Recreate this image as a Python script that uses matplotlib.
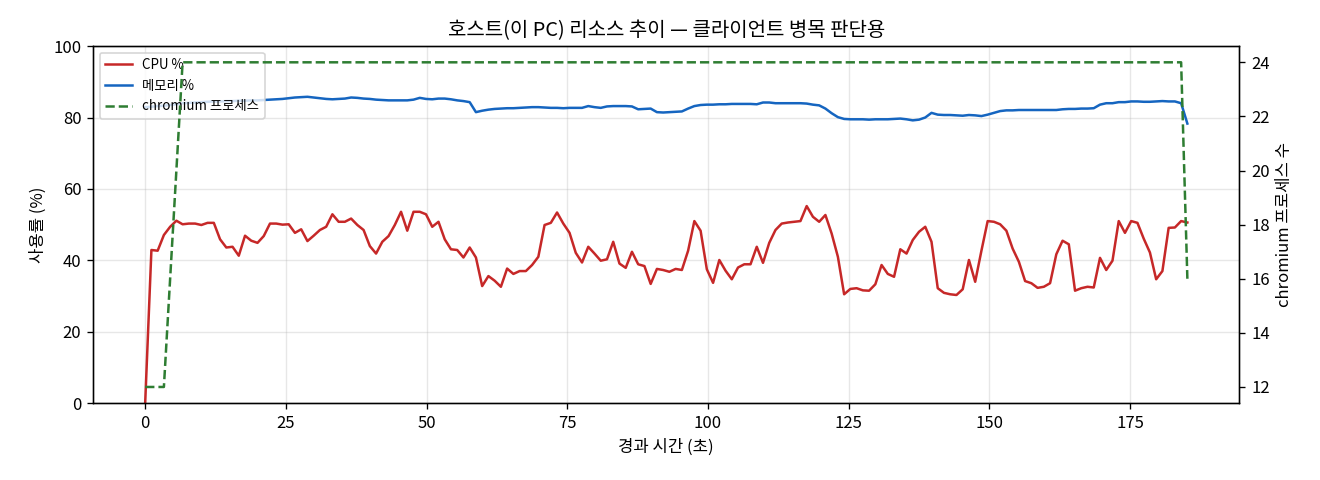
import numpy as np
import matplotlib
matplotlib.use("Agg")
import matplotlib.pyplot as plt

plt.rcParams['font.family'] = ['Noto Sans CJK KR', 'DejaVu Sans']
plt.rcParams['axes.unicode_minus'] = False

# sampling interval of the host monitor (seconds)
SAMPLE_SEC = 1.109

cpu_pct = [
    0.0, 42.9, 42.7, 47.1, 49.4, 51.1, 50.1, 50.3, 50.3, 49.9,
    50.5, 50.5, 45.9, 43.6, 43.8, 41.3, 46.9, 45.5, 44.9, 46.8,
    50.3, 50.3, 50.0, 50.1, 47.7, 48.7, 45.4, 46.9, 48.5, 49.4,
    52.9, 50.8, 50.8, 51.7, 49.9, 48.5, 44.0, 41.9, 45.2, 46.8,
    49.9, 53.6, 48.3, 53.6, 53.6, 52.9, 49.4, 50.8, 45.9, 43.1,
    42.9, 40.8, 43.6, 40.8, 32.8, 35.6, 34.3, 32.6, 37.7, 36.2,
    37.0, 37.0, 38.7, 41.0, 49.9, 50.5, 53.4, 50.3, 47.7, 42.1,
    39.4, 43.8, 41.9, 39.9, 40.3, 45.2, 39.1, 37.9, 42.4, 38.9,
    38.4, 33.4, 37.6, 37.3, 36.8, 37.6, 37.3, 42.7, 51.0, 48.3,
    37.5, 33.7, 40.1, 37.1, 34.7, 38.0, 38.9, 38.9, 43.8, 39.3,
    44.9, 48.5, 50.3, 50.6, 50.8, 51.0, 55.2, 52.2, 50.8, 52.7,
    47.5, 41.0, 30.5, 32.0, 32.2, 31.6, 31.5, 33.3, 38.7, 36.2,
    35.4, 43.1, 41.9, 45.7, 48.0, 49.4, 45.2, 32.2, 30.9, 30.5,
    30.3, 31.9, 40.1, 34.0, 42.7, 51.0, 50.8, 50.1, 48.3, 43.3,
    39.6, 34.2, 33.6, 32.3, 32.6, 33.6, 41.7, 45.5, 44.5, 31.5,
    32.2, 32.6, 32.4, 40.7, 37.3, 39.9, 51.0, 47.7, 51.0, 50.5,
    46.1, 42.2, 34.7, 37.0, 49.1, 49.2, 51.0, 50.6,
]

mem_pct = [
    82.9, 83.0, 83.2, 83.3, 83.5, 83.7, 84.0, 84.1, 84.2, 84.3,
    84.4, 84.5, 84.5, 84.6, 84.6, 84.7, 84.7, 84.8, 84.8, 84.9,
    85.0, 85.1, 85.2, 85.4, 85.6, 85.7, 85.8, 85.6, 85.4, 85.2,
    85.1, 85.2, 85.3, 85.6, 85.5, 85.3, 85.2, 85.0, 84.9, 84.8,
    84.8, 84.8, 84.8, 85.0, 85.5, 85.2, 85.1, 85.3, 85.3, 85.1,
    84.8, 84.6, 84.3, 81.5, 81.9, 82.2, 82.4, 82.5, 82.6, 82.6,
    82.7, 82.8, 82.9, 82.9, 82.8, 82.7, 82.7, 82.6, 82.7, 82.7,
    82.7, 83.2, 82.9, 82.7, 83.1, 83.2, 83.2, 83.2, 83.1, 82.3,
    82.4, 82.5, 81.5, 81.4, 81.5, 81.6, 81.7, 82.5, 83.2, 83.5,
    83.6, 83.6, 83.7, 83.7, 83.8, 83.8, 83.8, 83.8, 83.7, 84.2,
    84.2, 84.0, 84.0, 84.0, 84.0, 84.0, 83.9, 83.6, 83.4, 82.5,
    81.2, 80.1, 79.6, 79.5, 79.5, 79.5, 79.4, 79.5, 79.5, 79.5,
    79.6, 79.7, 79.5, 79.2, 79.4, 80.0, 81.3, 80.8, 80.7, 80.7,
    80.6, 80.5, 80.7, 80.6, 80.4, 80.8, 81.3, 81.8, 82.0, 82.0,
    82.1, 82.1, 82.1, 82.1, 82.1, 82.1, 82.1, 82.3, 82.4, 82.4,
    82.5, 82.5, 82.6, 83.6, 84.0, 84.0, 84.3, 84.3, 84.5, 84.5,
    84.4, 84.4, 84.5, 84.6, 84.5, 84.5, 84.0, 78.3,
]

chromium_cnt = [12] * 4 + [16, 20] + [24] * 161 + [16]

elapsed = np.arange(len(cpu_pct)) * SAMPLE_SEC


def main():
    fig, ax1 = plt.subplots(figsize=(11, 4), dpi=120)
    fig.subplots_adjust(left=0.0705, right=0.939, top=0.904, bottom=0.160)

    l1, = ax1.plot(elapsed, cpu_pct, color="#c62828", lw=1.5, label="CPU %")
    l2, = ax1.plot(elapsed, mem_pct, color="#1565c0", lw=1.5, label="메모리 %")
    ax1.set_ylim(0, 100)
    ax1.set_xlabel("경과 시간 (초)")
    ax1.set_ylabel("사용률 (%)")
    ax1.grid(True, alpha=0.3)

    ax2 = ax1.twinx()
    l3, = ax2.plot(elapsed, chromium_cnt, color="#2e7d32", lw=1.5, ls="--",
                   label="chromium 프로세스")
    ax2.set_ylabel("chromium 프로세스 수")

    ax1.legend(handles=[l1, l2, l3], loc="upper left", fontsize=8)
    ax1.set_title("호스트(이 PC) 리소스 추이 — 클라이언트 병목 판단용", fontsize=12)

    plt.savefig("out.png", dpi=120)


if __name__ == "__main__":
    main()
